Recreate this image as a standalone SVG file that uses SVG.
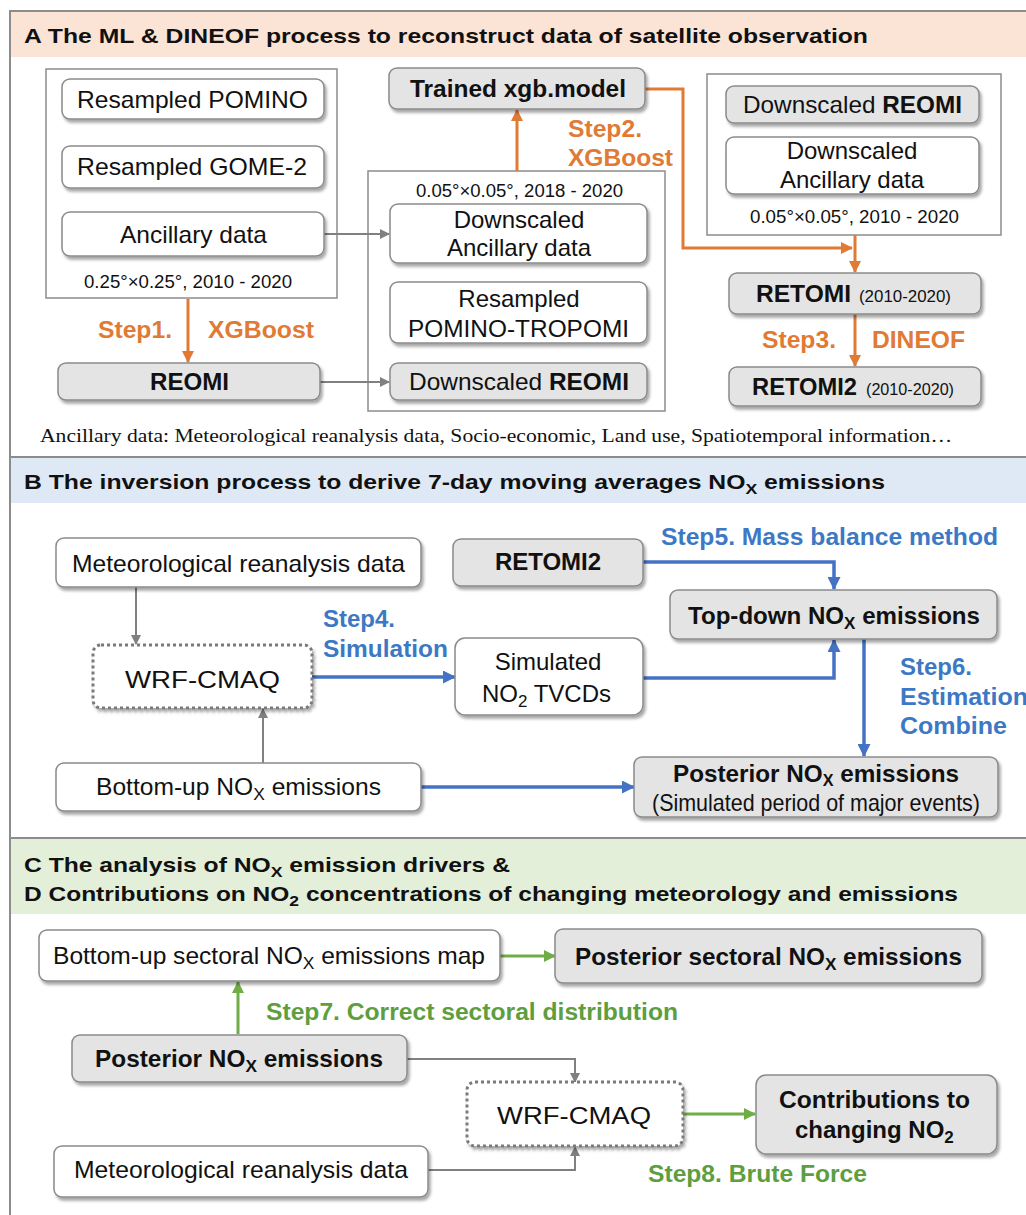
<svg xmlns="http://www.w3.org/2000/svg" width="1026" height="1215" viewBox="0 0 1026 1215">
<style>
text{font-family:"Liberation Sans",Arial,sans-serif;fill:#111}
.n{font-size:24px}
.b{font-weight:bold}
.h{font-size:21px;font-weight:bold}
.sm{font-size:18px}
.xs{font-size:17px}
.fn{font-family:"Liberation Serif","Times New Roman",serif;font-size:18px}
.so{fill:#e07a35;font-weight:bold;font-size:23px}
.sb{fill:#3d78c4;font-weight:bold;font-size:23px}
.sg{fill:#5e9e40;font-weight:bold;font-size:23px}
.box{fill:#fff;stroke:#8a8a8a;stroke-width:1.5;filter:url(#sh)}
.gbox{fill:#e4e4e4;stroke:#8a8a8a;stroke-width:1.5;filter:url(#sh)}
.dbox{fill:#fff;stroke:#7a7a7a;stroke-width:3;stroke-dasharray:3 3;filter:url(#sh)}
.frm{fill:none;stroke:#8c8c8c;stroke-width:1.5}
.cg{fill:none;stroke:#808080;stroke-width:2}
.co{fill:none;stroke:#e07a35;stroke-width:3}
.cb{fill:none;stroke:#4472c4;stroke-width:3.5}
.cgr{fill:none;stroke:#70ad47;stroke-width:3}
</style>
<defs>
<filter id="sh" x="-10%" y="-10%" width="125%" height="150%">
<feDropShadow dx="2" dy="3" stdDeviation="1.5" flood-color="#000" flood-opacity="0.35"/>
</filter>
<marker id="ag" markerUnits="userSpaceOnUse" markerWidth="10" markerHeight="10" refX="9" refY="5" orient="auto"><path d="M0,0 L10,5 L0,10 z" fill="#808080"/></marker>
<marker id="ao" markerUnits="userSpaceOnUse" markerWidth="12" markerHeight="12" refX="11" refY="6" orient="auto"><path d="M0,0 L12,6 L0,12 z" fill="#e07a35"/></marker>
<marker id="ab" markerUnits="userSpaceOnUse" markerWidth="13" markerHeight="13" refX="12" refY="6.5" orient="auto"><path d="M0,0 L13,6.5 L0,13 z" fill="#4472c4"/></marker>
<marker id="agr" markerUnits="userSpaceOnUse" markerWidth="12" markerHeight="12" refX="11" refY="6" orient="auto"><path d="M0,0 L12,6 L0,12 z" fill="#70ad47"/></marker>
</defs>
<rect width="1026" height="1215" fill="#fff"/>

<g id="sections">
<rect x="11" y="12" width="1015" height="45" fill="#fbe4d5"/>
<rect x="11" y="458" width="1015" height="45" fill="#dfe9f5"/>
<rect x="11" y="839" width="1015" height="75" fill="#e3efd9"/>
<path d="M10,1215 V11 H1026 M10,457 H1026 M10,838 H1026" fill="none" stroke="#8c8c8c" stroke-width="2"/>
<text class="h" x="24" y="43" textLength="844" lengthAdjust="spacingAndGlyphs">A The ML &amp; DINEOF process to reconstruct data of satellite observation</text>
<text class="h" x="24" y="489" textLength="861" lengthAdjust="spacingAndGlyphs">B The inversion process to derive 7-day moving averages NO<tspan font-size="15" dy="5">X</tspan><tspan dy="-5"> emissions</tspan></text>
<text class="h" x="24" y="872" textLength="486" lengthAdjust="spacingAndGlyphs">C The analysis of NO<tspan font-size="15" dy="5">X</tspan><tspan dy="-5"> emission drivers &amp;</tspan></text>
<text class="h" x="24" y="901" textLength="934" lengthAdjust="spacingAndGlyphs">D Contributions on NO<tspan font-size="15" dy="5">2</tspan><tspan dy="-5"> concentrations of changing meteorology and emissions</tspan></text>
<text class="fn" x="40" y="442" textLength="912" lengthAdjust="spacingAndGlyphs">Ancillary data: Meteorological reanalysis data, Socio-economic, Land use, Spatiotemporal information…</text>
</g>

<g id="frames">
<rect class="frm" x="46" y="69" width="291" height="229"/>
<rect class="frm" x="368" y="171" width="297" height="240"/>
<rect class="frm" x="707" y="74" width="294" height="161"/>
<text class="sm" x="84" y="288" textLength="208" lengthAdjust="spacingAndGlyphs">0.25°×0.25°, 2010 - 2020</text>
<text class="sm" x="416" y="197" textLength="207" lengthAdjust="spacingAndGlyphs">0.05°×0.05°, 2018 - 2020</text>
<text class="sm" x="750" y="223" textLength="209" lengthAdjust="spacingAndGlyphs">0.05°×0.05°, 2010 - 2020</text>
</g>

<g id="connectors">
<path class="cg" d="M324,234 H389" marker-end="url(#ag)"/>
<path class="cg" d="M320,382 H389" marker-end="url(#ag)"/>
<path class="co" d="M188,299 V362" marker-end="url(#ao)"/>
<path class="co" d="M517,171 V110" marker-end="url(#ao)"/>
<path class="co" d="M645,89 H683 V248 H852" marker-end="url(#ao)"/>
<path class="co" d="M855,235 V272" marker-end="url(#ao)"/>
<path class="co" d="M855,314 V366" marker-end="url(#ao)"/>
<path class="cg" d="M136,587 V644" marker-end="url(#ag)"/>
<path class="cg" d="M263,763 V709" marker-end="url(#ag)"/>
<path class="cb" d="M312,677 H455" marker-end="url(#ab)"/>
<path class="cb" d="M643,562 H834 V589" marker-end="url(#ab)"/>
<path class="cb" d="M643,678 H834 V640" marker-end="url(#ab)"/>
<path class="cb" d="M864,639 V756" marker-end="url(#ab)"/>
<path class="cb" d="M421,787 H634" marker-end="url(#ab)"/>
<path class="cgr" d="M500,956 H555" marker-end="url(#agr)"/>
<path class="cgr" d="M238,1034 V982" marker-end="url(#agr)"/>
<path class="cg" d="M407,1059 H575 V1082" marker-end="url(#ag)"/>
<path class="cg" d="M428,1170 H575 V1147" marker-end="url(#ag)"/>
<path class="cgr" d="M683,1114 H755" marker-end="url(#agr)"/>
<text class="so" x="98" y="338" textLength="74" lengthAdjust="spacingAndGlyphs">Step1.</text>
<text class="so" x="208" y="338" textLength="106" lengthAdjust="spacingAndGlyphs">XGBoost</text>
<text class="so" x="568" y="137" textLength="74" lengthAdjust="spacingAndGlyphs">Step2.</text>
<text class="so" x="568" y="166" textLength="105" lengthAdjust="spacingAndGlyphs">XGBoost</text>
<text class="so" x="762" y="348" textLength="74" lengthAdjust="spacingAndGlyphs">Step3.</text>
<text class="so" x="872" y="348" textLength="93" lengthAdjust="spacingAndGlyphs">DINEOF</text>
<text class="sb" x="323" y="627" textLength="72" lengthAdjust="spacingAndGlyphs">Step4.</text>
<text class="sb" x="323" y="657" textLength="125" lengthAdjust="spacingAndGlyphs">Simulation</text>
<text class="sb" x="661" y="545" textLength="337" lengthAdjust="spacingAndGlyphs">Step5. Mass balance method</text>
<text class="sb" x="900" y="675" textLength="72" lengthAdjust="spacingAndGlyphs">Step6.</text>
<text class="sb" x="900" y="705" textLength="128" lengthAdjust="spacingAndGlyphs">Estimation</text>
<text class="sb" x="900" y="734" textLength="107" lengthAdjust="spacingAndGlyphs">Combine</text>
<text class="sg" x="266" y="1020" textLength="412" lengthAdjust="spacingAndGlyphs">Step7. Correct sectoral distribution</text>
<text class="sg" x="648" y="1182" textLength="219" lengthAdjust="spacingAndGlyphs">Step8. Brute Force</text>
</g>

<g id="n-pomino"><rect class="box" x="62" y="79" width="262" height="40" rx="8"/><text class="n" x="77" y="108" textLength="231" lengthAdjust="spacingAndGlyphs">Resampled POMINO</text></g>
<g id="n-gome"><rect class="box" x="62" y="146" width="262" height="42" rx="8"/><text class="n" x="77" y="175" textLength="230" lengthAdjust="spacingAndGlyphs">Resampled GOME-2</text></g>
<g id="n-ancillary"><rect class="box" x="62" y="212" width="262" height="44" rx="8"/><text class="n" x="120" y="243" textLength="147" lengthAdjust="spacingAndGlyphs">Ancillary data</text></g>
<g id="n-reomi"><rect class="gbox" x="58" y="363" width="262" height="37" rx="8"/><text class="n b" x="150" y="390" textLength="79" lengthAdjust="spacingAndGlyphs">REOMI</text></g>
<g id="n-xgb"><rect class="gbox" x="389" y="68" width="256" height="41" rx="8"/><text class="n b" x="410" y="97" textLength="216" lengthAdjust="spacingAndGlyphs">Trained xgb.model</text></g>
<g id="n-ds-anc"><rect class="box" x="390" y="204" width="257" height="59" rx="8"/><text class="n" x="519" y="228" text-anchor="middle">Downscaled</text><text class="n" x="519" y="256" text-anchor="middle">Ancillary data</text></g>
<g id="n-tropomi"><rect class="box" x="390" y="282" width="257" height="61" rx="8"/><text class="n" x="519" y="307" text-anchor="middle">Resampled</text><text class="n" x="408" y="337" textLength="221" lengthAdjust="spacingAndGlyphs">POMINO-TROPOMI</text></g>
<g id="n-ds-reomi"><rect class="gbox" x="390" y="363" width="257" height="37" rx="8"/><text class="n" x="409" y="390" textLength="220" lengthAdjust="spacingAndGlyphs">Downscaled <tspan class="b">REOMI</tspan></text></g>
<g id="n-ds-reomi2"><rect class="gbox" x="726" y="86" width="253" height="37" rx="8"/><text class="n" x="743" y="113" textLength="219" lengthAdjust="spacingAndGlyphs">Downscaled <tspan class="b">REOMI</tspan></text></g>
<g id="n-ds-anc2"><rect class="box" x="726" y="137" width="253" height="57" rx="8"/><text class="n" x="852" y="159" text-anchor="middle">Downscaled</text><text class="n" x="852" y="188" text-anchor="middle">Ancillary data</text></g>
<g id="n-retomi"><rect class="gbox" x="729" y="273" width="252" height="41" rx="8"/><text class="n b" x="756" y="302" textLength="95" lengthAdjust="spacingAndGlyphs">RETOMI</text><text class="xs" x="859" y="302" textLength="92" lengthAdjust="spacingAndGlyphs">(2010-2020)</text></g>
<g id="n-retomi2"><rect class="gbox" x="729" y="367" width="252" height="39" rx="8"/><text class="n b" x="752" y="395" textLength="105" lengthAdjust="spacingAndGlyphs">RETOMI2</text><text class="xs" x="866" y="395" textLength="88" lengthAdjust="spacingAndGlyphs">(2010-2020)</text></g>

<g id="n-met-b"><rect class="box" x="56" y="538" width="365" height="49" rx="8"/><text class="n" x="72" y="572" textLength="333" lengthAdjust="spacingAndGlyphs">Meteorological reanalysis data</text></g>
<g id="n-retomi2-b"><rect class="gbox" x="453" y="539" width="190" height="47" rx="8"/><text class="n b" x="548" y="570" text-anchor="middle">RETOMI2</text></g>
<g id="n-wrf-b"><rect class="dbox" x="93" y="645" width="219" height="63" rx="8"/><text class="n" x="125" y="688" font-size="28" textLength="155" lengthAdjust="spacingAndGlyphs">WRF-CMAQ</text></g>
<g id="n-sim"><rect class="box" x="455" y="638" width="188" height="77" rx="10"/><text class="n" x="548" y="670" text-anchor="middle">Simulated</text><text class="n" x="482" y="702">NO<tspan font-size="17" dy="5">2</tspan><tspan dy="-5"> TVCDs</tspan></text></g>
<g id="n-topdown"><rect class="gbox" x="670" y="590" width="327" height="49" rx="8"/><text class="n b" x="688" y="624" textLength="292" lengthAdjust="spacingAndGlyphs">Top-down NO<tspan font-size="17" dy="5">X</tspan><tspan dy="-5"> emissions</tspan></text></g>
<g id="n-bottomup"><rect class="box" x="56" y="763" width="365" height="48" rx="8"/><text class="n" x="96" y="795" textLength="285" lengthAdjust="spacingAndGlyphs">Bottom-up NO<tspan font-size="17" dy="5">X</tspan><tspan dy="-5"> emissions</tspan></text></g>
<g id="n-posterior-b"><rect class="gbox" x="634" y="757" width="364" height="60" rx="8"/><text class="n b" x="673" y="782" textLength="286" lengthAdjust="spacingAndGlyphs">Posterior NO<tspan font-size="16" dy="4">X</tspan><tspan dy="-4"> emissions</tspan></text><text class="n" x="652" y="811" font-size="20" textLength="328" lengthAdjust="spacingAndGlyphs">(Simulated period of major events)</text></g>

<g id="n-sectoral"><rect class="box" x="39" y="930" width="461" height="51" rx="8"/><text class="n" x="53" y="964" textLength="432" lengthAdjust="spacingAndGlyphs">Bottom-up sectoral NO<tspan font-size="17" dy="5">X</tspan><tspan dy="-5"> emissions map</tspan></text></g>
<g id="n-post-sectoral"><rect class="gbox" x="555" y="929" width="427" height="54" rx="8"/><text class="n b" x="575" y="965" textLength="387" lengthAdjust="spacingAndGlyphs">Posterior sectoral NO<tspan font-size="17" dy="5">X</tspan><tspan dy="-5"> emissions</tspan></text></g>
<g id="n-posterior-c"><rect class="gbox" x="72" y="1035" width="335" height="47" rx="8"/><text class="n b" x="95" y="1067" textLength="288" lengthAdjust="spacingAndGlyphs">Posterior NO<tspan font-size="17" dy="5">X</tspan><tspan dy="-5"> emissions</tspan></text></g>
<g id="n-wrf-c"><rect class="dbox" x="467" y="1082" width="216" height="64" rx="8"/><text class="n" x="497" y="1124" font-size="28" textLength="154" lengthAdjust="spacingAndGlyphs">WRF-CMAQ</text></g>
<g id="n-met-c"><rect class="box" x="54" y="1146" width="374" height="51" rx="8"/><text class="n" x="74" y="1178" textLength="334" lengthAdjust="spacingAndGlyphs">Meteorological reanalysis data</text></g>
<g id="n-contrib"><rect class="gbox" x="756" y="1075" width="241" height="79" rx="10"/><text class="n b" x="779" y="1108" textLength="191" lengthAdjust="spacingAndGlyphs">Contributions to</text><text class="n b" x="795" y="1138">changing NO<tspan font-size="17" dy="5">2</tspan></text></g>
</svg>
